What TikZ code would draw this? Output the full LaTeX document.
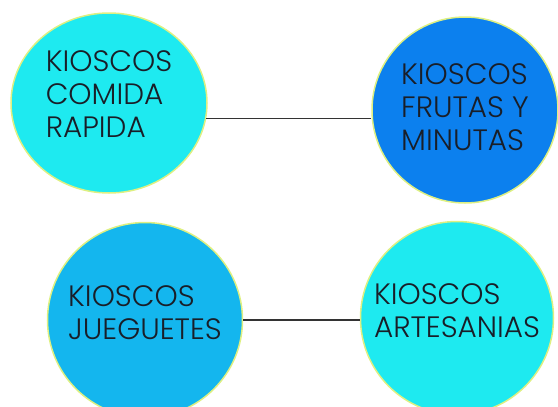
\documentclass[tikz,border=0pt]{standalone}
\usepackage{fontspec}
\setmainfont{Poppins}[UprightFont=* Light]
\usepackage{xcolor}
\usepackage{tikz}
\usetikzlibrary{shapes.geometric}
\definecolor{aqua}{RGB}{30,234,240}
\definecolor{azul}{RGB}{12,128,238}
\definecolor{celeste}{RGB}{20,182,238}
\definecolor{borde}{RGB}{222,240,130}
\definecolor{tinta}{RGB}{25,30,40}
% texto sin tamano, para que no agrande el circulo
\newcommand{\kiotexto}[2][-3pt]{\raisebox{#1}[0pt][0pt]{\makebox[0pt]{\begin{tabular}{@{}l@{}}#2\end{tabular}}}}

\begin{document}
\begin{tikzpicture}[x=1pt,y=-1pt,
  kiosco/.style={ellipse,draw=borde,line width=1.5pt,inner sep=0pt,text=tinta,
    font=\fontsize{29.5}{33}\selectfont},
  enlace/.style={draw=black!80,line width=1.3pt}]
  \useasboundingbox (0,0) rectangle (558,407);
  \node[kiosco,fill=aqua,minimum width=196pt,minimum height=180pt] (comida) at (109,103) {\kiotexto[-1pt]{KIOSCOS\\COMIDA\\RAPIDA}};
  \node[kiosco,fill=azul,minimum width=186pt,minimum height=186pt] (frutas) at (465,110) {\kiotexto[-7.5pt]{KIOSCOS\\FRUTAS Y\\MINUTAS}};
  \node[kiosco,fill=celeste,minimum width=195pt,minimum height=195pt] (juguetes) at (145,320) {\kiotexto{KIOSCOS\\JUEGUETES}};
  \node[kiosco,fill=aqua,minimum width=193pt,minimum height=193pt] (artesanias) at (457,318) {\kiotexto[-2.5pt]{KIOSCOS\\ARTESANIAS}};
  \draw[enlace] (comida.-9) -- (comida.-9 -| frutas.west);
  \draw[enlace] (juguetes.east) -- (juguetes.east -| artesanias.west);
\end{tikzpicture}
\end{document}
